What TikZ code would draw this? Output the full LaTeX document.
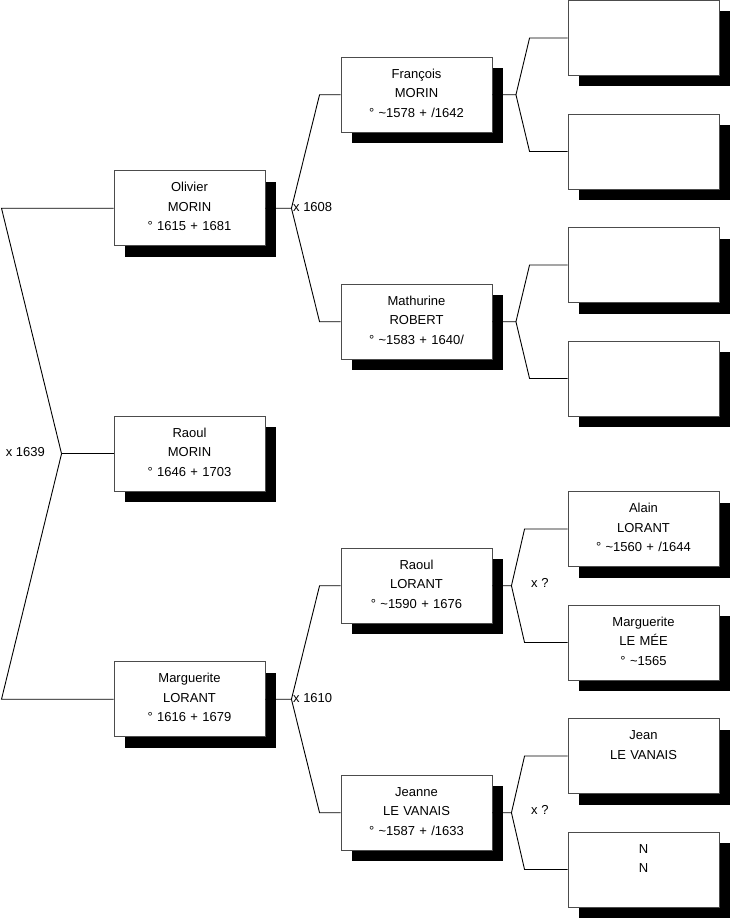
\documentclass[tikz,border=0pt]{standalone}
\usepackage{fontspec}
\setmainfont{Liberation Sans}
\usetikzlibrary{shadows, positioning}

\begin{document}
\begin{tikzpicture}[x=1pt, y=-1pt,
          fiche/.style={rectangle, draw=black!70, fill=white, line width=0.9pt,
                        text width=151pt, align=center, inner sep=0pt,
                        text height=21pt, text depth=54pt,
                        font=\fontsize{13}{19.5}\selectfont,
                        drop shadow={shadow xshift=11pt, shadow yshift=-11pt,
                                     fill=black, opacity=1}},
          lien/.style={black, line width=0.9pt},
          mariage/.style={font=\fontsize{13}{15}\selectfont, inner sep=1.5pt}
        ]
        \useasboundingbox (0,0) rectangle (731,920);
        \coordinate (bord) at (1.5,0);

        % arriere-grands-parents
        \node[fiche] (a1) at (643.5,  38.0) {};
        \node[fiche] (a2) at (643.5, 151.5) {};
        \node[fiche] (a3) at (643.5, 265.0) {};
        \node[fiche] (a4) at (643.5, 378.5) {};
        \node[fiche] (a5) at (643.5, 529.0) {Alain\\LORANT\\° \textasciitilde1560 + /1644};
        \node[fiche] (a6) at (643.5, 642.5) {Marguerite\\LE MÉE\\° \textasciitilde1565};
        \node[fiche] (a7) at (643.5, 756.0) {Jean\\LE VANAIS};
        \node[fiche] (a8) at (643.5, 869.5) {N\\N};

        % grands-parents
        \node[fiche] (fra) at (416.5,  94.75) {François\\MORIN\\° \textasciitilde1578 + /1642};
        \node[fiche] (mat) at (416.5, 321.75) {Mathurine\\ROBERT\\° \textasciitilde1583 + 1640/};
        \node[fiche] (ral) at (416.5, 585.75) {Raoul\\LORANT\\° \textasciitilde1590 + 1676};
        \node[fiche] (jea) at (416.5, 812.75) {Jeanne\\LE VANAIS\\° \textasciitilde1587 + /1633};

        % parents
        \node[fiche] (oli) at (189.5, 208.25) {Olivier\\MORIN\\° 1615 + 1681};
        \node[fiche] (mag) at (189.5, 699.25) {Marguerite\\LORANT\\° 1616 + 1679};

        % racine
        \node[fiche] (rao) at (189.5, 453.75) {Raoul\\MORIN\\° 1646 + 1703};

        \draw[lien] (rao.west) -- ++(-52,0) coordinate (jr);
        \draw[lien] (jr) -- (oli.west -| bord) -- (oli.west);
        \draw[lien] (jr) -- (mag.west -| bord) -- (mag.west);
        \node[mariage, left=15pt of jr, yshift=1.5pt] (m0) {x 1639};

        \draw[lien] (oli.east) -- ++(26,0) coordinate (jo) -- ([xshift=-21pt]fra.west) -- (fra.west);
        \draw[lien] (jo) -- ([xshift=-21pt]mat.west) -- (mat.west);
        \node[mariage, right=0pt of jo, yshift=1pt] (m1) {x 1608};

        \draw[lien] (mag.east) -- ++(26,0) coordinate (jm) -- ([xshift=-21pt]ral.west) -- (ral.west);
        \draw[lien] (jm) -- ([xshift=-21pt]jea.west) -- (jea.west);
        \node[mariage, right=0pt of jm, yshift=1pt] (m2) {x 1610};

        \draw[lien] (fra.east) -- ++(23.5,0) coordinate (jf) -- ([xshift=-38pt]a1.west) -- (a1.west);
        \draw[lien] (jf) -- ([xshift=-38pt]a2.west) -- (a2.west);

        \draw[lien] (mat.east) -- ++(23.5,0) coordinate (jt) -- ([xshift=-38pt]a3.west) -- (a3.west);
        \draw[lien] (jt) -- ([xshift=-38pt]a4.west) -- (a4.west);

        \draw[lien] (ral.east) -- ++(19,0) coordinate (jl) -- ([xshift=-43pt]a5.west) -- (a5.west);
        \draw[lien] (jl) -- ([xshift=-43pt]a6.west) -- (a6.west);
        \node[mariage, right=18pt of jl, yshift=3pt] (m3) {x ?};

        \draw[lien] (jea.east) -- ++(19,0) coordinate (jv) -- ([xshift=-43pt]a7.west) -- (a7.west);
        \draw[lien] (jv) -- ([xshift=-43pt]a8.west) -- (a8.west);
        \node[mariage, right=18pt of jv, yshift=3pt] (m4) {x ?};
      \end{tikzpicture}
\end{document}
